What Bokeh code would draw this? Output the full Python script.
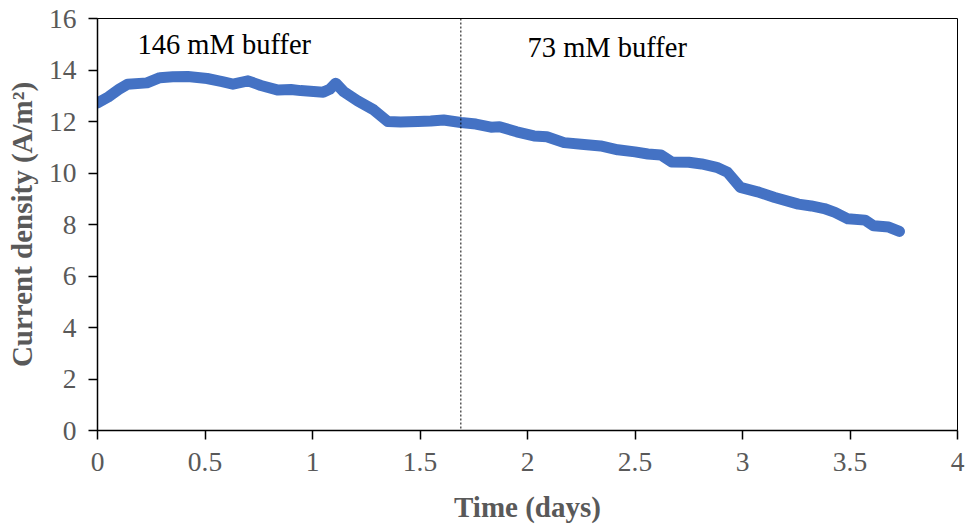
from bokeh.plotting import figure
from bokeh.models import Range1d, FixedTicker, Span, Label
from bokeh.embed import file_html
from bokeh.resources import INLINE

# Data
time_days = [0.0, 0.05, 0.10, 0.14, 0.23, 0.29, 0.35, 0.42, 0.51, 0.58, 0.63, 0.70, 0.76,
             0.84, 0.90, 0.945, 1.05, 1.08, 1.108, 1.145, 1.21, 1.285, 1.35, 1.41, 1.49,
             1.55, 1.61, 1.69, 1.76, 1.83, 1.87, 1.95, 2.03, 2.09, 2.17, 2.25, 2.34, 2.42,
             2.50, 2.56, 2.62, 2.67, 2.75, 2.81, 2.88, 2.93, 2.99, 3.07, 3.15, 3.26, 3.32,
             3.38, 3.43, 3.49, 3.57, 3.61, 3.68, 3.73]
current_density = [12.72, 12.95, 13.25, 13.45, 13.50, 13.70, 13.74, 13.75, 13.67, 13.55, 13.45,
                   13.58, 13.40, 13.22, 13.24, 13.20, 13.14, 13.25, 13.49, 13.16, 12.80, 12.45,
                   12.00, 11.98, 12.00, 12.02, 12.06, 11.96, 11.90, 11.78, 11.80, 11.60, 11.44,
                   11.41, 11.18, 11.12, 11.05, 10.90, 10.82, 10.74, 10.70, 10.43, 10.42, 10.35,
                   10.22, 10.03, 9.44, 9.27, 9.05, 8.79, 8.72, 8.62, 8.47, 8.22, 8.17, 7.95,
                   7.90, 7.73]

x_ticks = [0, 0.5, 1, 1.5, 2, 2.5, 3, 3.5, 4]
x_tick_labels = ["0", "0.5", "1", "1.5", "2", "2.5", "3", "3.5", "4"]
y_ticks = [0, 2, 4, 6, 8, 10, 12, 14, 16]
y_tick_labels = ["0", "2", "4", "6", "8", "10", "12", "14", "16"]

buffer_change_day = 1.69
annotations = [(0.186, 14.98, "146 mM buffer"), (2.0, 14.86, "73 mM buffer")]

FONT = "Liberation Serif"
GREY = "#595959"

p = figure(width=968, height=525, output_backend="svg", toolbar_location=None,
           x_range=Range1d(0, 4), y_range=Range1d(0, 16),
           min_border_left=97, min_border_right=11, min_border_top=18, min_border_bottom=95)

p.xgrid.visible = False
p.ygrid.visible = False
p.outline_line_color = "black"
p.outline_line_width = 1
p.background_fill_color = "white"
p.border_fill_color = "white"

p.line(time_days, current_density, line_width=11, line_color="#4472C4",
       line_join="round", line_cap="round")

p.add_layout(Span(location=buffer_change_day, dimension="height", line_color="black",
                  line_width=1, line_dash="2 2"))

for ax_x, ax_y, txt in annotations:
    p.add_layout(Label(x=ax_x, y=ax_y, text=txt, text_font=FONT, text_font_size="28.5px",
                       text_color="black", text_baseline="middle", text_align="left"))

p.xaxis.ticker = FixedTicker(ticks=x_ticks)
p.xaxis.major_label_overrides = {t: l for t, l in zip(x_ticks, x_tick_labels)}
p.yaxis.ticker = FixedTicker(ticks=y_ticks)
p.yaxis.major_label_overrides = {t: l for t, l in zip(y_ticks, y_tick_labels)}

for ax in (p.xaxis, p.yaxis):
    ax.axis_line_color = "black"
    ax.axis_line_width = 1.5
    ax.major_tick_line_color = "black"
    ax.major_tick_line_width = 1.5
    ax.major_tick_in = 0
    ax.major_tick_out = 9
    ax.minor_tick_line_color = None
    ax.major_label_text_font = FONT
    ax.major_label_text_font_size = "27.5px"
    ax.major_label_text_color = GREY
    ax.axis_label_text_font = FONT
    ax.axis_label_text_font_style = "bold"
    ax.axis_label_text_font_size = "29px"
    ax.axis_label_text_color = GREY

p.xaxis.axis_label = "Time (days)"
p.yaxis.axis_label = "Current density (A/m²)"
p.xaxis.major_label_standoff = 13
p.yaxis.major_label_standoff = 12
p.xaxis.axis_label_standoff = 17
p.yaxis.axis_label_standoff = 8

open("out.html", "w").write(file_html(p, INLINE))
